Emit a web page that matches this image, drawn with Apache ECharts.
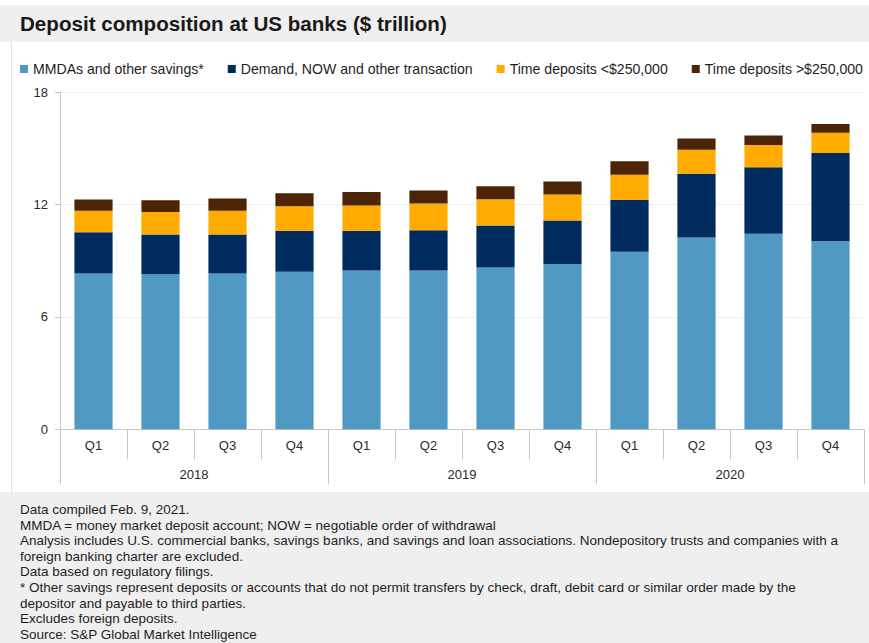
<!DOCTYPE html>
<html>
<head>
<meta charset="utf-8">
<script src="https://cdn.jsdelivr.net/npm/echarts@6/dist/echarts.min.js"></script>
<style>
  html, body { margin: 0; padding: 0; background: #ffffff; }
  body { width: 869px; height: 643px; position: relative; overflow: hidden;
         font-family: "Liberation Sans", Arial, sans-serif; color: #1e1e1e; }
  #head { position: absolute; left: 0; top: 5px; width: 869px; height: 37px; background: #efefef; }
  #head h1 { margin: 0; position: absolute; left: 20px; top: 8px; font-size: 20.6px; font-weight: bold;
             line-height: 22px; color: #1a1a1a; white-space: nowrap; }
  #panel { position: absolute; left: 11px; top: 42px; width: 858px; height: 450px;
           border-left: 1px solid #e2e2e2; box-sizing: border-box; }
  #chart { position: absolute; left: 0; top: 42px; width: 869px; height: 450px; }
  #notes { position: absolute; left: 0; top: 492px; width: 869px; height: 151px; background: #efefef; }
  #notes div { position: absolute; left: 20px; font-size: 13.5px; line-height: 15.6px; white-space: nowrap; color: #1e1e1e; }
</style>
</head>
<body>
<div id="head"><h1>Deposit composition at US banks ($ trillion)</h1></div>
<div id="panel"></div>
<div id="chart"></div>
<div id="notes"></div>
<script>
// Quarter and year labels for the two-level category axis
const quarters = ['Q1', 'Q2', 'Q3', 'Q4', 'Q1', 'Q2', 'Q3', 'Q4', 'Q1', 'Q2', 'Q3', 'Q4'];
const years = ['2018', '2019', '2020'];

// Deposit balances, $ trillion
const mmdaSavings = [8.32, 8.27, 8.32, 8.41, 8.47, 8.48, 8.64, 8.82, 9.47, 10.23, 10.44, 10.03];
const demandNow   = [2.19, 2.12, 2.07, 2.19, 2.12, 2.14, 2.23, 2.32, 2.78, 3.41, 3.55, 4.71];
const timeUnder   = [1.15, 1.21, 1.27, 1.30, 1.35, 1.43, 1.41, 1.39, 1.33, 1.28, 1.18, 1.09];
const timeOver    = [0.60, 0.62, 0.66, 0.70, 0.73, 0.69, 0.69, 0.69, 0.73, 0.60, 0.51, 0.46];

const seriesNames = ['MMDAs and other savings*', 'Demand, NOW and other transaction',
                     'Time deposits <$250,000', 'Time deposits >$250,000'];

// Value axis range
const yMin = 0, yMax = 18, yStep = 6;

const footnotes = [
  'Data compiled Feb. 9, 2021.',
  'MMDA = money market deposit account; NOW = negotiable order of withdrawal',
  'Analysis includes U.S. commercial banks, savings banks, and savings and loan associations. Nondepository trusts and companies with a',
  'foreign banking charter are excluded.',
  'Data based on regulatory filings.',
  '* Other savings represent deposits or accounts that do not permit transfers by check, draft, debit card or similar order made by the',
  'depositor and payable to third parties.',
  'Excludes foreign deposits.',
  'Source: S&P Global Market Intelligence'
];

const notesEl = document.getElementById('notes');
footnotes.forEach(function (t, i) {
  const d = document.createElement('div');
  d.textContent = t;
  d.style.top = (10 + i * 15.6) + 'px';
  notesEl.appendChild(d);
});

const colors = ['#4f99c4', '#002b5e', '#ffab00', '#4d2506'];
const values = [mmdaSavings, demandNow, timeUnder, timeOver];
const font = '"Liberation Sans", Arial, sans-serif';

const chart = echarts.init(document.getElementById('chart'), null, { renderer: 'svg' });
chart.setOption({
  animation: false,
  color: colors,
  textStyle: { fontFamily: font },
  legend: {
    left: 15, right: 0, top: 15,
    itemWidth: 8, itemHeight: 8, itemGap: 24,
    icon: 'rect',
    textStyle: { fontSize: 14.1, color: '#1e1e1e', fontFamily: font },
    data: seriesNames
  },
  grid: { left: 60, right: 5, top: 50, bottom: 62.7 },
  xAxis: [
    {
      type: 'category', data: quarters, position: 'bottom',
      axisLine: { lineStyle: { color: '#c8c8c8' } },
      axisTick: { show: true, interval: 0, length: 30, lineStyle: { color: '#c8c8c8' } },
      axisLabel: { interval: 0, margin: 10, fontSize: 13, color: '#2a2a2a' }
    },
    {
      type: 'category', data: years, position: 'bottom',
      axisLine: { lineStyle: { color: '#c8c8c8' } },
      axisTick: { show: true, interval: 0, length: 55, lineStyle: { color: '#c8c8c8' } },
      axisLabel: { interval: 0, margin: 39, fontSize: 13, color: '#2a2a2a' }
    }
  ],
  yAxis: {
    type: 'value', min: yMin, max: yMax, interval: yStep,
    axisLine: { show: true, lineStyle: { color: '#c8c8c8' } },
    axisTick: { show: true, length: 5, lineStyle: { color: '#c8c8c8' } },
    axisLabel: { margin: 12, fontSize: 13, color: '#2a2a2a' },
    splitLine: { lineStyle: { color: '#efefef' } }
  },
  series: seriesNames.map(function (name, i) {
    return {
      name: name, type: 'bar', stack: 'deposits', xAxisIndex: 0,
      barWidth: '57%', data: values[i],
      itemStyle: { color: colors[i] }
    };
  })
});
</script>
</body>
</html>
